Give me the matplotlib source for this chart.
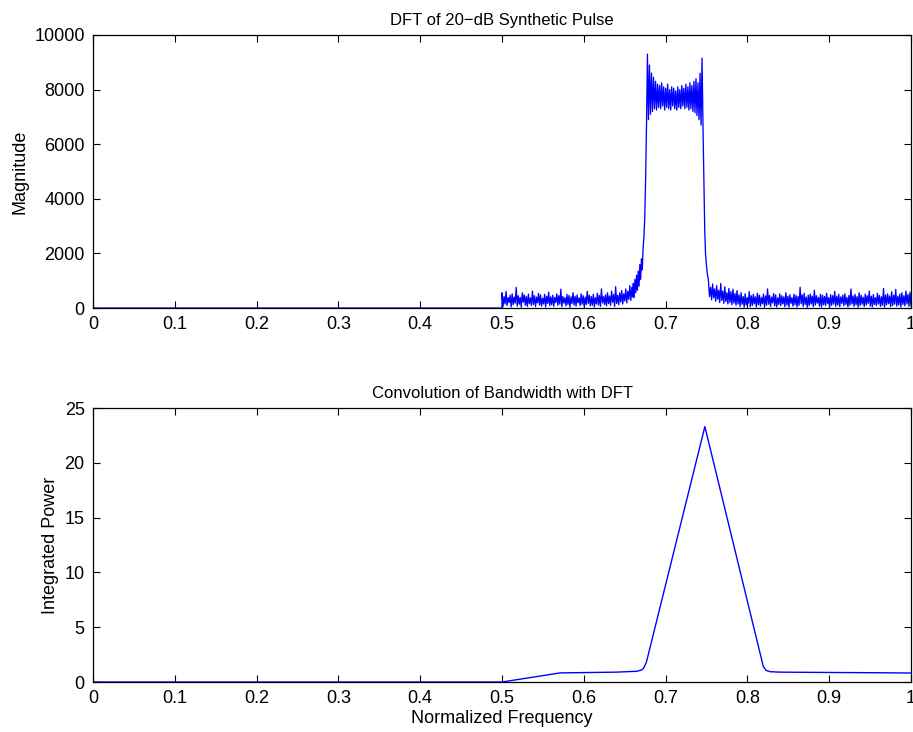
import numpy as np
import matplotlib
matplotlib.use("Agg")
import matplotlib.pyplot as plt

plt.rcParams['font.family'] = ['Liberation Sans', 'DejaVu Sans']
plt.rcParams['font.size'] = 13

# ---- top panel: DFT magnitude ----
zero_x = [0.0, 0.5]
zero_y = [0, 0]

# noise floor 0.5 .. 0.66 (peaks / troughs)
a_hi = [560, 420, 610, 380, 470, 520, 400, 760, 450, 390,
        560, 480, 420, 510, 370, 620, 450, 400, 540, 480,
        360, 500, 430, 580, 410, 470, 390, 520, 450, 690,
        420, 380, 500, 460, 410, 560, 430, 480, 370, 520,
        450, 400, 610, 470, 420, 500, 380, 540, 460, 700,
        420, 480, 560, 440, 620, 500, 780, 470, 560, 640,
        520, 700, 610, 820, 760]
a_lo = [60, 150, 90, 200, 40, 120, 180, 70, 140, 30,
        210, 100, 60, 160, 90, 130, 50, 190, 110, 70,
        150, 40, 170, 90, 120, 60, 200, 100, 140, 50,
        180, 80, 130, 30, 160, 110, 70, 190, 90, 140,
        50, 120, 170, 80, 100, 40, 150, 110, 60, 190,
        130, 80, 160, 100, 210, 60, 170, 120, 220, 150,
        260, 190, 320, 280, 400]

rise_x = [0.6605, 0.6615, 0.6625, 0.6635, 0.6645, 0.6655, 0.6665, 0.6675, 0.6685,
          0.6695, 0.6705, 0.6715, 0.6725, 0.6735, 0.6745, 0.6755, 0.6765, 0.6772]
rise_y = [900, 380, 1050, 560, 1200, 650, 1350, 800, 1600,
          1050, 1800, 1400, 2200, 2600, 3300, 4600, 6400, 8000]

# pass band 0.678 .. 0.746
p_hi = [9300, 8900, 8600, 8450, 8300, 8200, 8150, 8250, 8100, 8050,
        8200, 8000, 8100, 8050, 7950, 8100, 8000, 8150, 8050, 8200,
        8100, 8250, 8150, 8300, 8400, 8250, 8600, 9150]
p_lo = [6900, 7100, 7200, 7300, 7250, 7350, 7300, 7400, 7250, 7350,
        7300, 7250, 7400, 7300, 7250, 7350, 7300, 7400, 7300, 7350,
        7250, 7300, 7200, 7150, 7050, 6900, 6700, 6500]

fall_x = [0.7468, 0.7478, 0.7488, 0.7498, 0.7510, 0.7522]
fall_y = [4800, 2900, 2000, 1600, 1250, 1050]

# noise floor 0.7525 .. 1.0
b_hi = [950, 760, 880, 700, 820, 650, 900, 620, 780, 560, 720, 600, 690, 530, 640,
        480, 560, 420, 520, 380, 600, 450, 500, 410, 540,
        470, 390, 510, 440, 700, 460, 400, 530, 480, 370,
        520, 450, 410, 560, 430, 490, 380, 510, 460, 420,
        760, 480, 540, 400, 470, 510, 430, 650, 450, 390,
        500, 470, 420, 540, 380, 490, 450, 610, 430, 500,
        410, 470, 520, 390, 460, 700, 440, 500, 420, 560,
        470, 400, 510, 450, 620, 430, 490, 380, 540, 460,
        410, 720, 480, 520, 440, 600, 470, 680, 430, 510,
        560, 450, 620, 500, 580]
b_lo = [420, 300, 380, 250, 320, 200, 280, 170, 240, 150, 200, 120, 180, 100, 150,
        60, 140, 30, 110, 180, 50, 90, 150, 40, 120,
        70, 160, 30, 100, 140, 60, 190, 80, 40, 130,
        90, 150, 50, 110, 30, 170, 70, 120, 40, 100,
        160, 60, 130, 30, 90, 150, 50, 110, 180, 70,
        40, 120, 90, 160, 30, 100, 140, 60, 110, 50,
        170, 80, 130, 40, 100, 150, 60, 120, 30, 90,
        140, 50, 110, 170, 70, 40, 130, 90, 150, 60,
        100, 30, 120, 160, 50, 90, 140, 70, 110, 40,
        130, 80, 150, 60, 100]

# ---- bottom panel: convolution ----
conv_x = [0.0, 0.5, 0.571, 0.60, 0.64, 0.665, 0.670, 0.673, 0.6765, 0.748,
          0.8195, 0.823, 0.828, 0.84, 0.90, 0.95, 1.0]
conv_y = [0, 0, 0.83, 0.86, 0.90, 0.98, 1.08, 1.25, 1.8, 23.3,
          1.4, 1.05, 0.94, 0.90, 0.87, 0.85, 0.82]

x_ticks = [0, 0.1, 0.2, 0.3, 0.4, 0.5, 0.6, 0.7, 0.8, 0.9, 1]
x_labels = ['0', '0.1', '0.2', '0.3', '0.4', '0.5', '0.6', '0.7', '0.8', '0.9', '1']


def interleave(hi, lo):
    return [v for pair in zip(hi, lo) for v in pair]


def segment(hi, lo, x0, x1):
    y = interleave(hi, lo)
    return list(np.linspace(x0, x1, len(y))), y


ax_x, ax_y = segment(a_hi, a_lo, 0.5, 0.66)
px_, py_ = segment(p_hi, p_lo, 0.6778, 0.7458)
bx_, by_ = segment(b_hi, b_lo, 0.7525, 1.0)

dft_x = zero_x + ax_x + rise_x + px_ + fall_x + bx_
dft_y = zero_y + ax_y + rise_y + py_ + fall_y + by_


def style(ax):
    ax.tick_params(direction='in', top=True, right=True, length=5, width=0.8, pad=6)
    for s in ax.spines.values():
        s.set_linewidth(0.9)
    ax.set_xlim(0, 1)
    ax.set_xticks(x_ticks)
    ax.set_xticklabels(x_labels)


fig = plt.figure(figsize=(9.13, 7.32), dpi=100)
ax1 = fig.add_axes([0.1019, 0.5792, 0.8959, 0.3730])
ax2 = fig.add_axes([0.1019, 0.0683, 0.8959, 0.3743])

ax1.plot(dft_x, dft_y, color='#0000ff', lw=0.95)
style(ax1)
ax1.set_ylim(0, 10000)
ax1.set_yticks([0, 2000, 4000, 6000, 8000, 10000])
ax1.set_ylabel('Magnitude')
ax1.set_title('DFT of 20\u2212dB Synthetic Pulse', fontsize=12, pad=7)

ax2.plot(conv_x, conv_y, color='#0000ff', lw=1.0)
style(ax2)
ax2.set_ylim(0, 25)
ax2.set_yticks([0, 5, 10, 15, 20, 25])
ax2.set_ylabel('Integrated Power')
ax2.set_xlabel('Normalized Frequency', labelpad=2)
ax2.set_title('Convolution of Bandwidth with DFT', fontsize=12, pad=7)

fig.savefig('out.png', dpi=100)
